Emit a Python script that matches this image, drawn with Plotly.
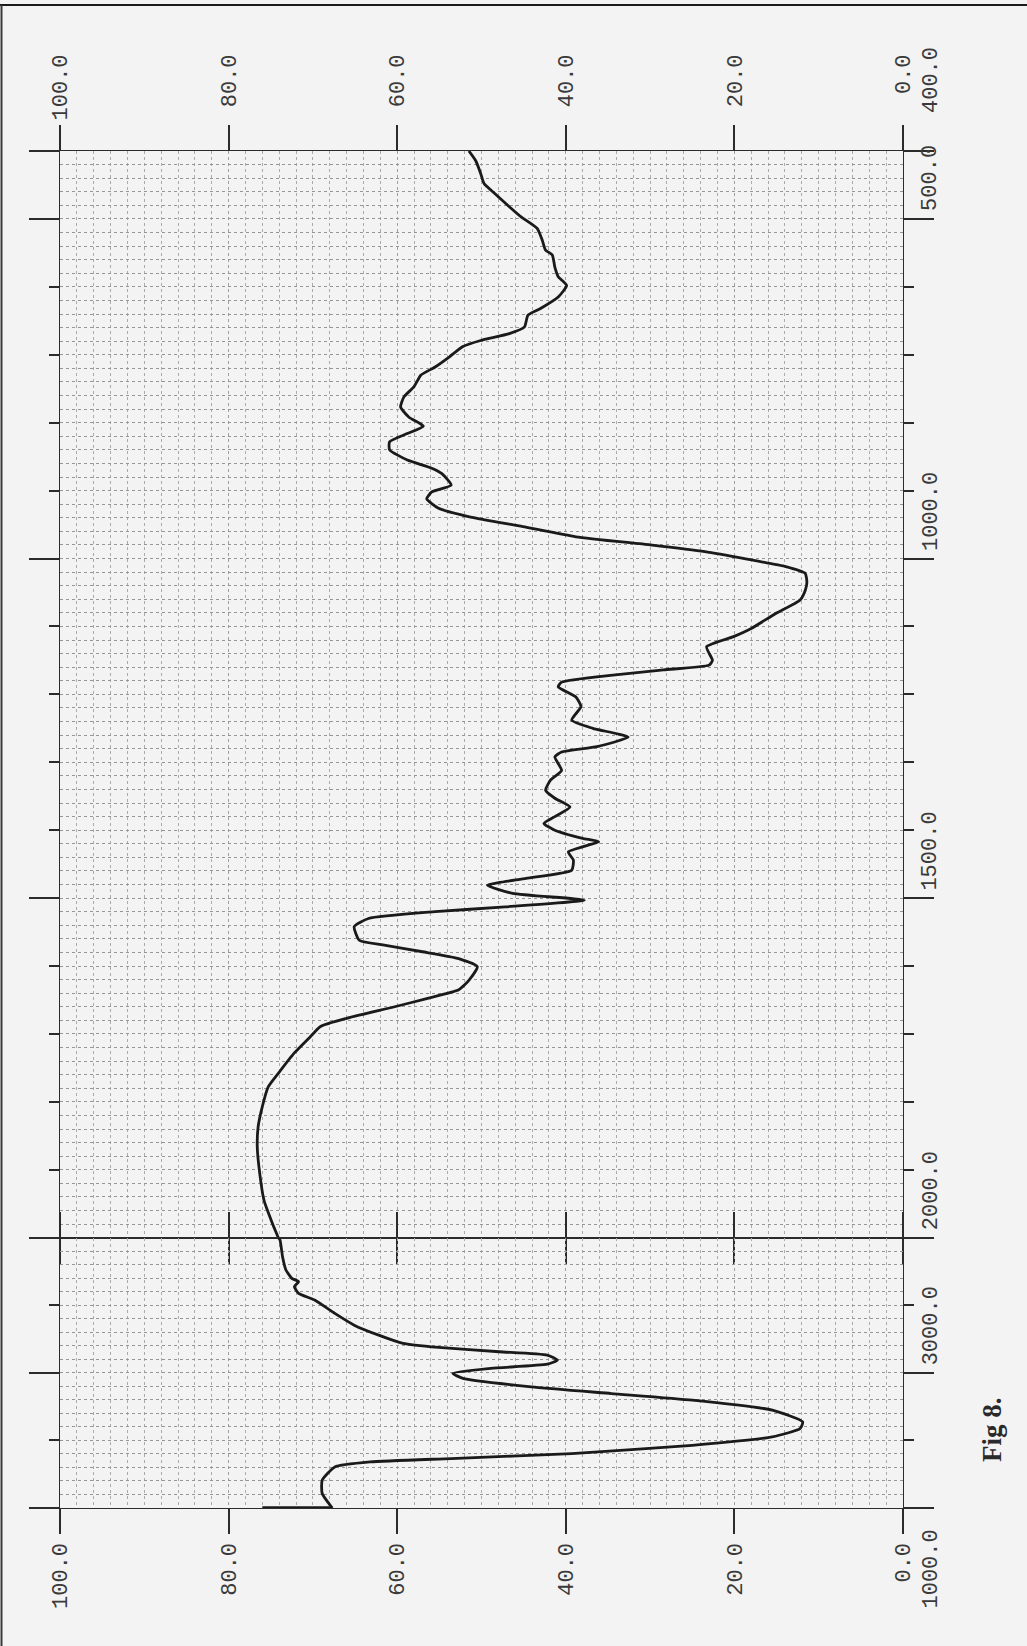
import plotly.graph_objects as go

# ---------------- data ----------------
# upper panel: 400 - 2000 cm-1
wn_top = [400, 414, 433, 448, 463, 482, 497, 514, 531, 546, 553, 571, 585, 598, 615,
          632, 642, 659, 669, 679, 688, 703, 718, 730, 747, 762, 777, 792, 805, 816,
          828, 840, 855, 867, 875, 892, 902, 912, 926, 939, 953, 968, 980, 990, 1001,
          1012, 1022, 1035, 1047, 1061, 1081, 1103, 1115, 1130, 1150, 1157, 1164, 1172,
          1182, 1189, 1204, 1218, 1238, 1250, 1263, 1277, 1285, 1292, 1312, 1326, 1341,
          1353, 1366, 1380, 1390, 1400, 1412, 1417, 1432, 1444, 1459, 1471, 1481, 1493,
          1503, 1513, 1520, 1530, 1542, 1562, 1569, 1579, 1589, 1601, 1621, 1635, 1648,
          1660, 1677, 1689, 1704, 1728, 1758, 1778, 1807, 1837, 1866, 1906, 1945, 1979,
          2000]
t_top = [51.5, 50.7, 50.1, 49.7, 48.4, 46.7, 45.3, 43.4, 42.8, 42.4, 41.6, 41.3, 40.9,
         39.9, 40.9, 43.0, 44.5, 44.9, 46.7, 50.1, 52.2, 53.8, 55.5, 57.2, 58.0, 59.2,
         59.6, 58.6, 56.9, 58.8, 60.9, 60.9, 58.8, 55.9, 54.7, 53.6, 55.9, 56.5, 55.1,
         51.3, 45.1, 38.8, 30.0, 23.5, 18.5, 13.9, 11.6, 11.4, 11.6, 12.2, 15.1, 18.0,
         20.1, 23.3, 22.6, 23.0, 28.4, 34.7, 40.5, 40.9, 38.8, 38.2, 39.3, 36.8, 32.6,
         36.3, 40.5, 41.3, 40.5, 41.8, 42.4, 41.3, 39.5, 41.3, 42.6, 41.3, 38.0, 36.1,
         39.7, 39.1, 39.3, 44.7, 49.3, 46.3, 37.8, 47.2, 55.5, 63.4, 65.1, 64.5, 61.7,
         57.0, 52.7, 50.5, 51.5, 52.7, 56.5, 60.3, 66.0, 69.1, 70.3, 72.2, 74.1, 75.3,
         76.0, 76.5, 76.6, 76.3, 75.8, 74.8, 74.1]

# lower panel: 2000 - 4000 cm-1
wn_bot = [2000, 2017, 2141, 2239, 2301, 2326, 2363, 2412, 2461, 2560, 2647, 2721, 2782,
          2812, 2844, 2869, 2906, 2936, 2967, 3004, 3041, 3104, 3153, 3202, 3276, 3363,
          3412, 3474, 3536, 3597, 3634, 3659, 3696, 3795, 3893, 4000]
t_bot = [74.1, 73.9, 73.6, 73.2, 72.5, 71.7, 72.2, 71.7, 69.8, 67.4, 65.1, 62.2, 59.3,
         55.1, 47.9, 42.2, 41.0, 42.2, 48.9, 53.4, 52.2, 44.1, 34.6, 25.0, 15.5, 11.9,
         12.2, 15.5, 25.0, 39.3, 53.6, 63.2, 67.4, 68.9, 68.9, 67.7]

# pen resting run along the 4000 cm-1 edge
wn_pen = [4000, 4000]
t_pen = [67.7, 76.0]

# axis ticks / labels
pct_ticks = [100, 80, 60, 40, 20, 0]
pct_labels = ["100.0", "80.0", "60.0", "40.0", "20.0", "0.0"]
wn_major_top = [400, 500, 1000, 1500, 2000]
wn_minor_top = [600, 700, 800, 900, 1100, 1200, 1300, 1400, 1600, 1700, 1800, 1900]
wn_major_bot = [2000, 3000, 4000]
wn_minor_bot = [2500, 3500]
wn_label_vals = [400, 500, 1000, 1500, 2000, 3000, 4000]
wn_label_text = ["400.0", "500.0", "1000.0", "1500.0", "2000.0", "3000.0", "1000.0"]
fig_caption = "Fig 8."

# ---------------- layout geometry ----------------
W, H = 1027, 1646
ML, MR, MT, MB = 60, 124, 151, 138
PH = H - MT - MB
PW = W - ML - MR
SPLIT = 0.1992            # fraction of height for the 2000-4000 panel

INK = "#2b2b2b"
PAPER = "#f3f3f3"
MONO = "Liberation Mono"

top_text = [s.rjust(5, "\u00a0") for s in pct_labels]

fig = go.Figure()
line_style = dict(color="#1a1a1a", width=2.8, shape="spline", smoothing=0.5)
fig.add_trace(go.Scatter(x=t_top, y=wn_top, xaxis="x", yaxis="y", mode="lines",
                         line=line_style, showlegend=False, hoverinfo="skip"))
fig.add_trace(go.Scatter(x=t_bot, y=wn_bot, xaxis="x2", yaxis="y2", mode="lines",
                         line=line_style, showlegend=False, hoverinfo="skip"))
fig.add_trace(go.Scatter(x=t_pen, y=wn_pen, xaxis="x2", yaxis="y2", mode="lines",
                         line=dict(color="#1a1a1a", width=3.5), cliponaxis=False,
                         showlegend=False, hoverinfo="skip"))
# carriers for the fine-grid overlay axes
fig.add_trace(go.Scatter(x=[None], y=[None], xaxis="x", yaxis="y3", showlegend=False,
                         hoverinfo="skip"))
fig.add_trace(go.Scatter(x=[None], y=[None], xaxis="x2", yaxis="y4", showlegend=False,
                         hoverinfo="skip"))

common_x = dict(
    range=[100, 0], tickmode="array", tickvals=pct_ticks,
    ticks="outside", ticklen=25, tickwidth=1.5, tickcolor=INK,
    showline=True, linecolor=INK, linewidth=1.3, mirror="allticks",
    tickangle=-90, tickfont=dict(family=MONO, size=22, color="#3a3a3a"),
    showgrid=True, gridcolor="#a0a0a0", griddash="dot", gridwidth=1,
    minor=dict(tickmode="linear", tick0=0, dtick=2, showgrid=True,
               gridcolor="#ababab", griddash="dot", gridwidth=1, ticks=""),
    zeroline=False, fixedrange=True,
)
common_y = dict(
    tickmode="array", ticks="outside", ticklen=30, tickwidth=1.5, tickcolor=INK,
    showticklabels=False, showline=True, linecolor=INK, linewidth=1.3,
    mirror="allticks", showgrid=False, zeroline=False, side="right", fixedrange=True,
)
grid_y = dict(tickmode="linear", showgrid=True, gridcolor="#959595", griddash="dot",
              gridwidth=1, ticks="", showticklabels=False, showline=False,
              zeroline=False, side="right", fixedrange=True)

fig.update_layout(
    width=W, height=H,
    margin=dict(l=ML, r=MR, t=MT, b=MB, pad=0),
    paper_bgcolor=PAPER, plot_bgcolor=PAPER,
    xaxis=dict(common_x, anchor="y", side="top", ticktext=top_text),
    xaxis2=dict(common_x, anchor="y2", side="bottom", ticktext=pct_labels, matches="x"),
    yaxis=dict(common_y, domain=[SPLIT, 1], range=[2000, 400], anchor="x",
               tickvals=wn_major_top,
               minor=dict(tickmode="array", tickvals=wn_minor_top, ticks="outside",
                          ticklen=10, tickwidth=1.5, tickcolor=INK, showgrid=False)),
    yaxis2=dict(common_y, domain=[0, SPLIT], range=[4000, 2000], anchor="x2",
                tickvals=wn_major_bot,
                minor=dict(tickmode="array", tickvals=wn_minor_bot, ticks="outside",
                           ticklen=10, tickwidth=1.5, tickcolor=INK, showgrid=False)),
    yaxis3=dict(grid_y, overlaying="y", anchor="x", range=[2000, 400], tick0=400, dtick=20),
    yaxis4=dict(grid_y, overlaying="y2", anchor="x2", range=[4000, 2000], tick0=2000, dtick=100),
)

# wavenumber labels on the right edge (rotated like the plotter output)
label_x = (931 - ML) / PW
for val, txt in zip(wn_label_vals, wn_label_text):
    yref = "y" if val <= 2000 else "y2"
    if val == 400:
        anchor, shift = "bottom", 36
    elif val == 4000:
        anchor, shift = "top", -19
    else:
        anchor, shift = "bottom", 6
    fig.add_annotation(x=label_x, xref="paper", y=val, yref=yref, text=txt,
                       textangle=-90, showarrow=False, xanchor="center",
                       yanchor=anchor, yshift=shift,
                       font=dict(family=MONO, size=22, color="#3a3a3a"))

# figure caption
fig.add_annotation(x=(992 - ML) / PW, xref="paper", y=(H - MB - 1430) / PH, yref="paper",
                   text="<b>" + fig_caption + "</b>", textangle=-90, showarrow=False,
                   xanchor="center", yanchor="middle",
                   font=dict(family="Liberation Serif", size=27, color="#2a2a2a"))

# edge of the scanned sheet
def px(xp):
    return (xp - ML) / PW

def py(yp):
    return (H - MB - yp) / PH

fig.add_shape(type="line", xref="paper", yref="paper", x0=px(0), x1=px(W),
              y0=py(5), y1=py(5), line=dict(color="#1a1a1a", width=2))
fig.add_shape(type="line", xref="paper", yref="paper", x0=px(1.5), x1=px(1.5),
              y0=py(5), y1=py(H), line=dict(color="#3a3a3a", width=2))

fig.write_html("out.html")
